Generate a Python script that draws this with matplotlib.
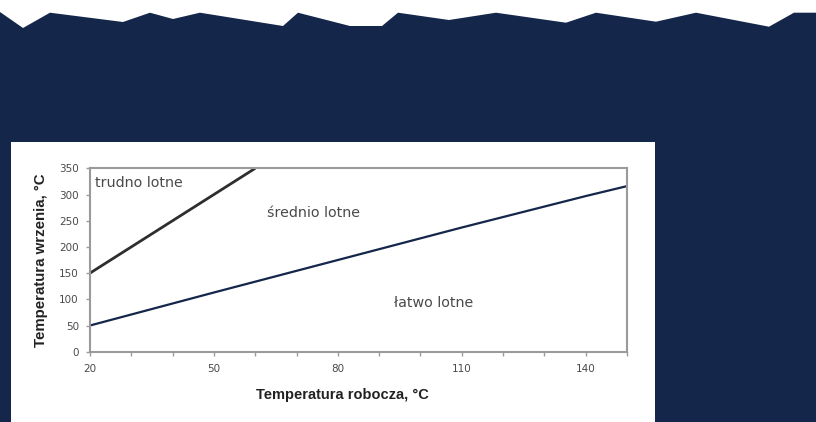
import numpy as np
import matplotlib
matplotlib.use("Agg")
import matplotlib.pyplot as plt
from matplotlib.patches import Rectangle, Polygon

# --- dane ---
temp_robocza_trudno = [20, 60]
temp_wrzenia_trudno = [150, 350]

temp_robocza_latwo = [20, 50, 80, 110, 140, 150]
temp_wrzenia_latwo = [50, 113, 175, 237, 297, 316]

x_ticks = [20, 50, 80, 110, 140]
y_ticks = [0, 50, 100, 150, 200, 250, 300, 350]

# --- kolory ---
NAVY = "#14264a"
GRID_GRAY = "#9a9a9a"
TEXT_GRAY = "#4a4a4a"

W, H = 816, 422
plt.rcParams['font.family'] = ['DejaVu Sans']

fig = plt.figure(figsize=(W / 100, H / 100), dpi=100, facecolor=NAVY)

# postrzepiony biały pas u góry (piksele)
edge = [(0, 12), (23, 28), (50, 12.7), (123, 22), (150, 12.7), (173, 19),
        (200, 12.7), (283, 26), (298, 12.7), (350, 26), (382, 26), (398, 12.7),
        (449, 20), (496, 12.7), (566, 22.7), (596, 12.7), (656, 21.7),
        (696, 12.7), (769, 26.7), (794, 12.7), (816, 12.7)]
pts = [(0, 0)] + edge + [(W, 0)]
fig.add_artist(Polygon([(x / W, 1 - y / H) for x, y in pts], closed=True,
                       transform=fig.transFigure, facecolor="white",
                       edgecolor="none", zorder=-2))

# biały panel wykresu
fig.add_artist(Rectangle((11 / W, 0), 644 / W, 280 / H, transform=fig.transFigure,
                         facecolor="white", edgecolor="none", zorder=-1))

ax = fig.add_axes([90 / W, (H - 351.7) / H, (627 - 90) / W, (351.7 - 168.3) / H])
ax.set_facecolor("white")

ax.plot(temp_robocza_trudno, temp_wrzenia_trudno, color="#2e2e2e", lw=2.0,
        solid_capstyle="butt")
ax.plot(temp_robocza_latwo, temp_wrzenia_latwo, color=NAVY, lw=1.6,
        solid_capstyle="butt")

ax.set_xlim(20, 150)
ax.set_ylim(0, 350)
ax.set_xticks(x_ticks)
ax.set_xticks(np.arange(20, 151, 10), minor=True)
ax.set_yticks(y_ticks)

for s in ax.spines.values():
    s.set_color(GRID_GRAY)
    s.set_linewidth(1.5)

ax.tick_params(axis="both", which="both", direction="out", length=3,
               color=GRID_GRAY, width=1, labelsize=7.5, labelcolor=TEXT_GRAY)
ax.tick_params(axis="x", pad=6)
ax.tick_params(axis="y", pad=5)

ax.text(21.3, 321, "trudno lotne", fontsize=10.3, color=TEXT_GRAY, va="center", ha="left")
ax.text(62.9, 265, "średnio lotne", fontsize=10.3, color=TEXT_GRAY, va="center", ha="left")
ax.text(93.7, 93, "łatwo lotne", fontsize=10.3, color=TEXT_GRAY, va="center", ha="left")

ax.set_xlabel("Temperatura robocza, °C", fontsize=10.5, fontweight="bold",
              color="#222222", family="Liberation Sans")
ax.xaxis.set_label_coords(0.47, -0.2)
ax.set_ylabel("Temperatura wrzenia, °C", fontsize=10.8, fontweight="bold",
              color="#222222", family="Liberation Sans", labelpad=8)

fig.savefig("out.png", dpi=100, facecolor=NAVY)
